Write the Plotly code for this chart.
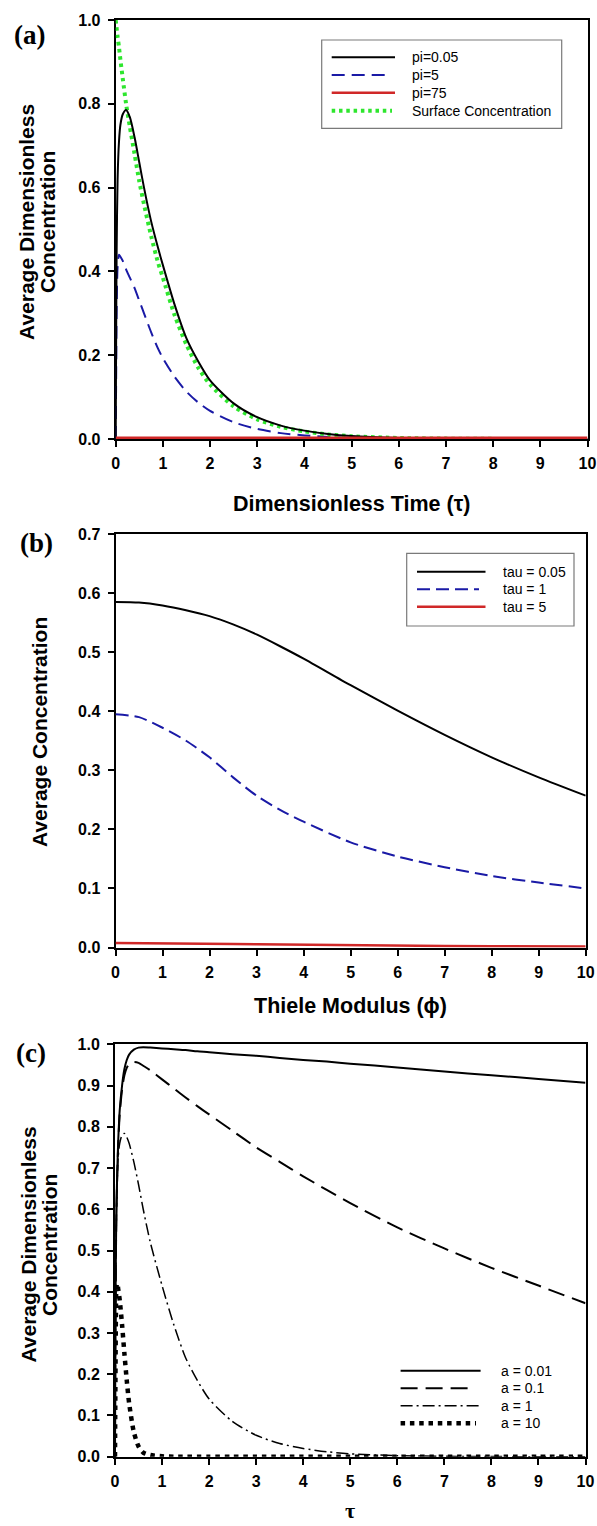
import plotly.graph_objects as go

W, H = 597, 1526

# ---------------- data: panel (a) ----------------
tau_a = [0, 0.01, 0.02, 0.04, 0.07, 0.1, 0.15, 0.22, 0.3, 0.4,
         0.5, 0.6, 0.75, 0.9, 1.0, 1.25, 1.5, 1.75, 2.0, 2.5,
         3.0, 3.5, 4.0, 4.5, 5.0, 6.0, 7.0, 8.0, 9.0, 10.0]
pi_005 = [0, 0.25, 0.45, 0.62, 0.71, 0.75, 0.775, 0.785, 0.768, 0.72,
          0.66, 0.60, 0.52, 0.455, 0.415, 0.32, 0.24, 0.185, 0.14, 0.085,
          0.052, 0.032, 0.02, 0.012, 0.007, 0.0025, 0.0009, 0.0003, 0.0001, 0.0]
pi_5 = [0, 0.15, 0.30, 0.41, 0.44, 0.435, 0.425, 0.405, 0.385, 0.36,
        0.33, 0.30, 0.255, 0.215, 0.193, 0.148, 0.113, 0.087, 0.067, 0.04,
        0.024, 0.014, 0.0085, 0.005, 0.003, 0.001, 0.0003, 0.0001, 0.0, 0.0]
surface = [1.0, 0.99, 0.98, 0.96, 0.935, 0.905, 0.86, 0.80, 0.745, 0.68,
           0.615, 0.56, 0.485, 0.42, 0.385, 0.295, 0.225, 0.17, 0.13, 0.078,
           0.047, 0.029, 0.018, 0.011, 0.0065, 0.0024, 0.0009, 0.0003, 0.0001, 0.0]
tau_red = [0, 2, 4, 6, 8, 10]
pi_75 = [0.003, 0.003, 0.003, 0.003, 0.003, 0.003]
legend_a = ["pi=0.05", "pi=5", "pi=75", "Surface Concentration"]

# ---------------- data: panel (b) ----------------
phi = [0, 0.5, 1, 1.5, 2, 2.5, 3, 3.5, 4, 5, 6, 7, 8, 9, 10]
tau_005 = [0.585, 0.584, 0.579, 0.571, 0.561, 0.547, 0.530, 0.510, 0.489, 0.444,
           0.401, 0.360, 0.322, 0.288, 0.257]
tau_1 = [0.395, 0.390, 0.372, 0.350, 0.322, 0.288, 0.257, 0.233, 0.213, 0.178,
         0.154, 0.136, 0.121, 0.110, 0.100]
tau_5 = [0.0075, 0.0074, 0.0072, 0.007, 0.0065, 0.006, 0.0055, 0.005, 0.0045, 0.0037,
         0.003, 0.0025, 0.002, 0.0018, 0.0016]
legend_b = ["tau = 0.05", "tau = 1", "tau = 5"]

# ---------------- data: panel (c) ----------------
tau_c = [0, 0.01, 0.02, 0.03, 0.05, 0.07, 0.1, 0.15, 0.2, 0.25,
         0.3, 0.4, 0.5, 0.6, 0.75, 1.0, 1.25, 1.5, 1.75, 2.0,
         2.5, 3.0, 3.5, 4.0, 4.5, 5.0, 6.0, 7.0, 8.0, 9.0, 10.0]
a_001 = [0, 0.35, 0.5, 0.6, 0.7, 0.77, 0.84, 0.9, 0.94, 0.962,
         0.975, 0.987, 0.992, 0.993, 0.992, 0.99, 0.988, 0.986, 0.983, 0.981,
         0.976, 0.972, 0.967, 0.962, 0.958, 0.953, 0.944, 0.934, 0.925, 0.916, 0.907]
a_01 = [0, 0.34, 0.49, 0.59, 0.69, 0.76, 0.83, 0.89, 0.925, 0.943,
        0.952, 0.957, 0.955, 0.948, 0.937, 0.915, 0.893, 0.871, 0.85, 0.83,
        0.79, 0.75, 0.715, 0.68, 0.647, 0.615, 0.556, 0.505, 0.458, 0.415, 0.372]
a_1 = [0, 0.3, 0.48, 0.58, 0.68, 0.73, 0.76, 0.78, 0.784, 0.775,
       0.76, 0.715, 0.66, 0.60, 0.52, 0.415, 0.32, 0.24, 0.185, 0.14,
       0.085, 0.052, 0.032, 0.02, 0.012, 0.007, 0.0025, 0.0009, 0.0003, 0.0001, 0.0]
a_10 = [0, 0.2, 0.35, 0.41, 0.42, 0.405, 0.38, 0.32, 0.25, 0.185,
        0.13, 0.06, 0.025, 0.01, 0.004, 0.001, 0, 0, 0, 0,
        0, 0, 0, 0, 0, 0, 0, 0, 0, 0, 0]
legend_c = ["a = 0.01", "a = 0.1", "a = 1", "a = 10"]

x_ticks = list(range(0, 11))
y_ticks_a = [0.0, 0.2, 0.4, 0.6, 0.8, 1.0]
y_ticks_b = [0.0, 0.1, 0.2, 0.3, 0.4, 0.5, 0.6, 0.7]
y_ticks_c = [0.0, 0.1, 0.2, 0.3, 0.4, 0.5, 0.6, 0.7, 0.8, 0.9, 1.0]

# ---------------- styles ----------------
BLUE = "#1a1aa6"
RED = "#d02828"
GREEN = "#2ee62e"
SANS = "Liberation Sans, Arial, sans-serif"
SERIF = "Liberation Serif, Times New Roman, serif"
SM = 0.7


def fx(p):
    return p / W


def fy(p):
    return 1 - p / H


def ln(color, width, dash="solid"):
    return dict(color=color, width=width, dash=dash, shape="spline", smoothing=SM)


fig = go.Figure()

# panel (a)
fig.add_trace(go.Scatter(x=tau_a, y=pi_5, mode="lines", line=ln(BLUE, 2, "13px,7px"),
                         xaxis="x", yaxis="y", showlegend=False))
fig.add_trace(go.Scatter(x=tau_a, y=surface, mode="lines", line=ln(GREEN, 4, "3.5px,3.8px"),
                         xaxis="x", yaxis="y", showlegend=False))
fig.add_trace(go.Scatter(x=tau_a, y=pi_005, mode="lines", line=ln("black", 2),
                         xaxis="x", yaxis="y", showlegend=False))
fig.add_trace(go.Scatter(x=tau_red, y=pi_75, mode="lines", line=dict(color=RED, width=2.5),
                         xaxis="x", yaxis="y", showlegend=False))

# panel (b)
fig.add_trace(go.Scatter(x=phi, y=tau_005, mode="lines", line=ln("black", 2),
                         xaxis="x2", yaxis="y2", showlegend=False))
fig.add_trace(go.Scatter(x=phi, y=tau_1, mode="lines", line=ln(BLUE, 2, "13px,6px"),
                         xaxis="x2", yaxis="y2", showlegend=False))
fig.add_trace(go.Scatter(x=phi, y=tau_5, mode="lines", line=dict(color=RED, width=2.5),
                         xaxis="x2", yaxis="y2", showlegend=False))

# panel (c)
fig.add_trace(go.Scatter(x=tau_c, y=a_001, mode="lines", line=ln("black", 2),
                         xaxis="x3", yaxis="y3", showlegend=False))
fig.add_trace(go.Scatter(x=tau_c, y=a_01, mode="lines", line=ln("black", 2, "17px,8px"),
                         xaxis="x3", yaxis="y3", showlegend=False))
fig.add_trace(go.Scatter(x=tau_c, y=a_1, mode="lines", line=ln("black", 1.5, "12px,4px,2px,4px"),
                         xaxis="x3", yaxis="y3", showlegend=False))
fig.add_trace(go.Scatter(x=tau_c, y=a_10, mode="lines", line=ln("black", 4.5, "4.5px,4.8px"),
                         xaxis="x3", yaxis="y3", showlegend=False))

tickfont = dict(family=SANS, size=16, color="black", weight="bold")


def xaxis(dom, anchor):
    return dict(domain=[fx(dom[0]), fx(dom[1])], anchor=anchor, range=[0, 10],
                tickvals=x_ticks, ticktext=[str(v) for v in x_ticks],
                showgrid=False, zeroline=False, showline=True, linecolor="black", linewidth=2,
                mirror=True, ticks="outside", ticklen=6, tickwidth=2, tickcolor="black",
                tickfont=tickfont, layer="below traces", automargin=False, fixedrange=True,
                ticklabelstandoff=3)


def yaxis(dom, anchor, rng, vals):
    return dict(domain=[fy(dom[1]), fy(dom[0])], anchor=anchor, range=rng,
                tickvals=vals, ticktext=["%.1f" % v for v in vals],
                showgrid=False, zeroline=False, showline=True, linecolor="black", linewidth=2,
                mirror=True, ticks="outside", ticklen=6, tickwidth=2, tickcolor="black",
                tickfont=tickfont, layer="below traces", automargin=False, fixedrange=True,
                ticklabelstandoff=4)


A_X, A_Y = (115.7, 587.5), (20, 439)
B_X, B_Y = (115.5, 585.7), (534, 947.5)
C_X, C_Y = (115.0, 585.5), (1044.3, 1456.7)

annotations = []
shapes = []


def text(x, y, s, size, bold=True, family=SANS, angle=0, xanchor="center"):
    annotations.append(dict(x=fx(x), y=fy(y), xref="paper", yref="paper", showarrow=False,
                            text=("<b>%s</b>" % s) if bold else s, textangle=angle,
                            xanchor=xanchor, yanchor="middle",
                            font=dict(family=family, size=size, color="black")))


# axis titles
text((A_X[0] + A_X[1]) / 2, 504, "Dimensionless Time (τ)", 21.5)
text((B_X[0] + B_X[1]) / 2, 1006, "Thiele Modulus (ϕ)", 21.5)
text((C_X[0] + C_X[1]) / 2, 1510, "τ", 22, family=SERIF)
text(27, 222, "Average Dimensionless", 21, angle=-90)
text(48, 222, "Concentration", 21, angle=-90)
text(39, 732, "Average Concentration", 21, angle=-90)
text(27.6, 1245, "Average Dimensionless", 21, angle=-90)
text(49, 1245, "Concentration", 21, angle=-90)

# panel labels
text(29, 35, "(a)", 27, family=SERIF)
text(36, 543, "(b)", 27, family=SERIF)
text(31, 1053, "(c)", 27, family=SERIF)


def seg(x0, x1, y, color, width, dash="solid"):
    shapes.append(dict(type="line", xref="paper", yref="paper", x0=fx(x0), x1=fx(x1),
                       y0=fy(y), y1=fy(y), line=dict(color=color, width=width, dash=dash)))


# legend (a)
shapes.append(dict(type="rect", xref="paper", yref="paper", x0=fx(321.7), x1=fx(561.7),
                   y0=fy(128.3), y1=fy(40), line=dict(color="#7a7a7a", width=1.2), fillcolor="white"))
ya = [57.3, 75, 92.7, 110.7]
seg(331.7, 395, ya[0], "black", 2)
seg(331.7, 390, ya[1], BLUE, 2, "13px,7px")
seg(331.7, 395, ya[2], RED, 2.5)
seg(331.7, 392, ya[3], GREEN, 4, "3.5px,3.8px")
for yy, s in zip(ya, legend_a):
    text(410, yy, s, 14, bold=False, xanchor="left")

# legend (b)
shapes.append(dict(type="rect", xref="paper", yref="paper", x0=fx(406.7), x1=fx(574),
                   y0=fy(626), y1=fy(553.3), line=dict(color="#7a7a7a", width=1.2), fillcolor="white"))
yb = [571.7, 589.3, 606.7]
seg(417, 485.5, yb[0], "black", 2)
seg(417, 479, yb[1], BLUE, 2, "13px,6px")
seg(417, 485.5, yb[2], RED, 2.5)
for yy, s in zip(yb, legend_b):
    text(500.8, yy, s, 14, bold=False, xanchor="left")

# legend (c)
yc = [1370.7, 1388.3, 1405.7, 1423.3]
seg(400.6, 480.6, yc[0], "black", 2)
seg(400.6, 472, yc[1], "black", 2, "17px,8px")
seg(400.6, 480.6, yc[2], "black", 1.5, "12px,4px,2px,4px")
seg(400.6, 476, yc[3], "black", 4.5, "4.5px,4.8px")
for yy, s in zip(yc, legend_c):
    text(498.5, yy, s, 14, bold=False, xanchor="left")

fig.update_layout(
    width=W, height=H, autosize=False,
    margin=dict(l=0, r=0, t=0, b=0, pad=0),
    paper_bgcolor="white", plot_bgcolor="white",
    showlegend=False,
    xaxis=xaxis(A_X, "y"), yaxis=yaxis(A_Y, "x", [0, 1.0], y_ticks_a),
    xaxis2=xaxis(B_X, "y2"), yaxis2=yaxis(B_Y, "x2", [0, 0.7], y_ticks_b),
    xaxis3=xaxis(C_X, "y3"), yaxis3=yaxis(C_Y, "x3", [0, 1.0], y_ticks_c),
    annotations=annotations, shapes=shapes,
)

fig.write_html("out.html", config={"displayModeBar": False})
